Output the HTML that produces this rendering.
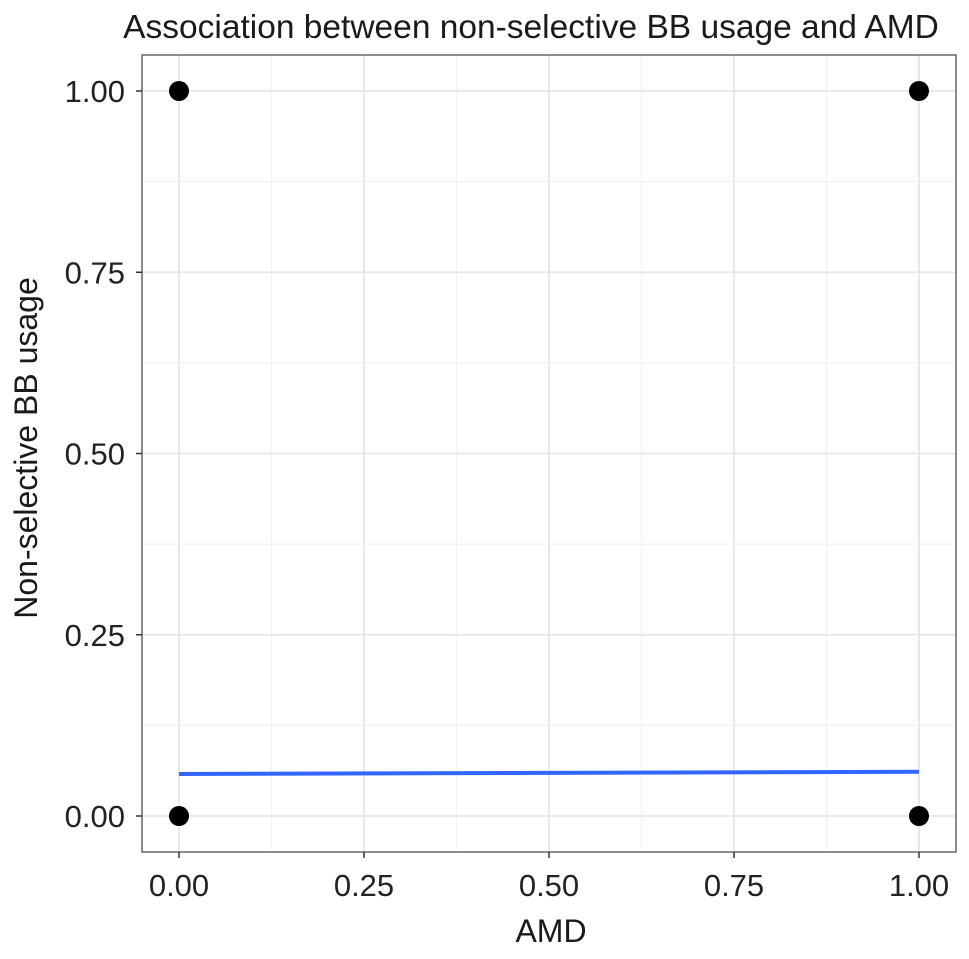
<!DOCTYPE html>
<html><head><meta charset="utf-8"><style>
body{margin:0;background:#fff}
svg text{font-family:"Liberation Sans",Arial,sans-serif}
</style></head><body>
<svg id="chart" width="969" height="954" viewBox="0 0 969 954">
<text x="531" y="38" font-size="33.5" text-anchor="middle" fill="#1a1a1a">Association between non-selective BB usage and AMD</text>
<g id="grid"></g>
<rect x="142" y="55" width="814" height="797" fill="none" stroke="#666" stroke-width="1.5"/>
<g id="marks"></g>
<g id="axes"></g>
<text x="551" y="942" font-size="32" text-anchor="middle" fill="#1a1a1a">AMD</text>
<text transform="translate(37,448) rotate(-90)" font-size="32" text-anchor="middle" fill="#1a1a1a">Non-selective BB usage</text>
</svg>
<script>
const xTicks=[0,0.25,0.5,0.75,1];
const yTicks=[0,0.25,0.5,0.75,1];
const tickLabels=["0.00","0.25","0.50","0.75","1.00"];
const pointsX=[0,0,1,1];
const pointsY=[0,1,0,1];
const lineX=[0,1];
const lineY=[0.058,0.061];
const sx=v=>179+v*740, sy=v=>816-v*725;
const NS="http://www.w3.org/2000/svg";
function mk(t,a,p){const e=document.createElementNS(NS,t);for(const k in a)e.setAttribute(k,a[k]);p.appendChild(e);return e;}
const g=document.getElementById('grid'),m=document.getElementById('marks'),ax=document.getElementById('axes');
xTicks.forEach((v,i)=>{
 const l=mk('line',{x1:sx(v),x2:sx(v),y1:55,y2:852,stroke:'#e6e6e6','stroke-width':1.8},g);
 
 
 if(i<xTicks.length-1){const h=mk('line',{x1:sx(v+0.125),x2:sx(v+0.125),y1:55,y2:852,stroke:'#f2f2f2','stroke-width':1.2},g);
 
 }
 const t=mk('line',{x1:sx(v),x2:sx(v),y1:852,y2:858,stroke:'#333','stroke-width':1.5},ax);
 
 
 const tx=mk('text',{x:sx(v),y:896,'font-size':31,'text-anchor':'middle',fill:'#222'},ax);tx.textContent=tickLabels[i];
 
 
});
yTicks.forEach((v,i)=>{
 const l=mk('line',{x1:142,x2:956,y1:sy(v),y2:sy(v),stroke:'#e6e6e6','stroke-width':1.8},g);
 
 
 if(i<yTicks.length-1){const h=mk('line',{x1:142,x2:956,y1:sy(v+0.125),y2:sy(v+0.125),stroke:'#f2f2f2','stroke-width':1.2},g);
 
 }
 const t=mk('line',{x1:136,x2:142,y1:sy(v),y2:sy(v),stroke:'#333','stroke-width':1.5},ax);
 
 
 const tx=mk('text',{x:125,y:sy(v)+11,'font-size':31,'text-anchor':'end',fill:'#222'},ax);tx.textContent=tickLabels[i];
 
 
});
const ln=mk('line',{x1:sx(lineX[0]),x2:sx(lineX[1]),y1:sy(lineY[0]),y2:sy(lineY[1]),stroke:'#3366ff','stroke-width':4},m);


pointsX.forEach((x,i)=>{
 const c=mk('circle',{cx:sx(x),cy:sy(pointsY[i]),r:10,fill:'#000'},m);
 
 
});
</script>
</body></html>
